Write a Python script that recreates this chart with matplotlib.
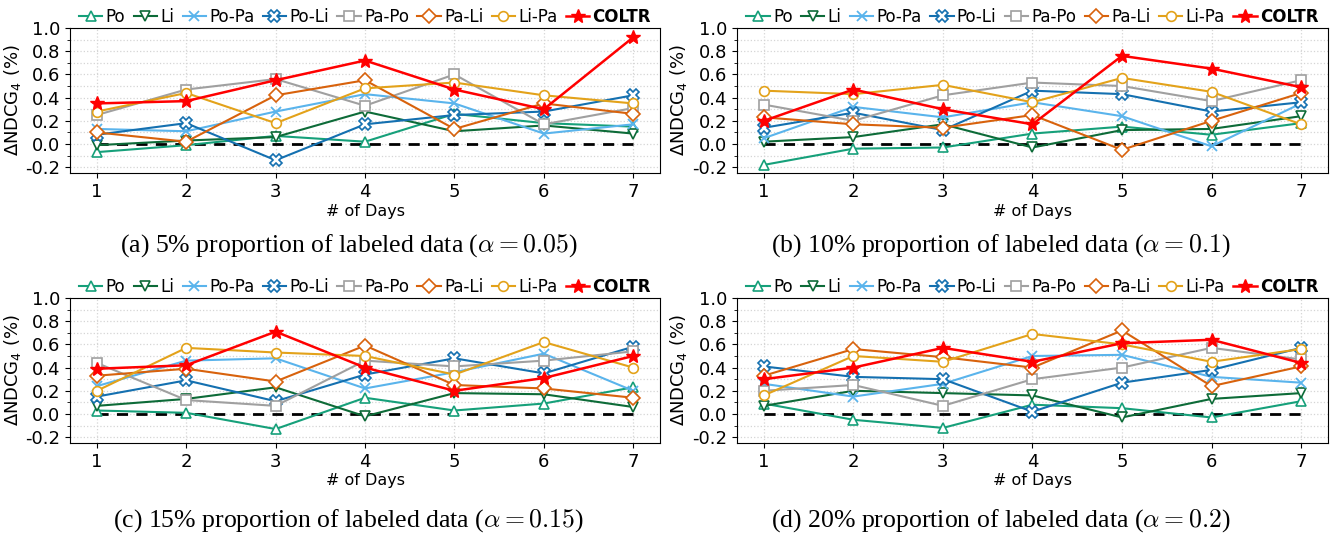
import matplotlib
matplotlib.use("Agg")
import matplotlib.pyplot as plt
from matplotlib.ticker import MultipleLocator

plt.rcParams['axes.unicode_minus'] = False

# x axis: number of days
days = [1, 2, 3, 4, 5, 6, 7]

# method names, in legend order
methods = ['Po', 'Li', 'Po-Pa', 'Po-Li', 'Pa-Po', 'Pa-Li', 'Li-Pa', 'COLTR']

# (a) alpha = 0.05
a_po    = [-0.07, -0.01, 0.07, 0.02, 0.26, 0.18, 0.15]
a_li    = [-0.01, 0.03, 0.06, 0.28, 0.11, 0.16, 0.09]
a_popa  = [0.13, 0.11, 0.28, 0.43, 0.35, 0.09, 0.17]
a_poli  = [0.08, 0.18, -0.14, 0.17, 0.25, 0.28, 0.42]
a_papo  = [0.25, 0.47, 0.56, 0.33, 0.60, 0.17, 0.31]
a_pali  = [0.10, 0.02, 0.42, 0.55, 0.13, 0.35, 0.26]
a_lipa  = [0.28, 0.44, 0.18, 0.48, 0.53, 0.42, 0.35]
a_coltr = [0.35, 0.37, 0.55, 0.72, 0.47, 0.30, 0.92]

# (b) alpha = 0.1
b_po    = [-0.18, -0.04, -0.03, 0.09, 0.15, 0.08, 0.18]
b_li    = [0.02, 0.06, 0.17, -0.03, 0.12, 0.13, 0.24]
b_popa  = [0.05, 0.32, 0.23, 0.36, 0.24, -0.02, 0.35]
b_poli  = [0.14, 0.27, 0.12, 0.46, 0.43, 0.28, 0.36]
b_papo  = [0.34, 0.20, 0.42, 0.53, 0.50, 0.37, 0.55]
b_pali  = [0.23, 0.17, 0.14, 0.25, -0.05, 0.20, 0.44]
b_lipa  = [0.46, 0.43, 0.51, 0.36, 0.57, 0.45, 0.17]
b_coltr = [0.20, 0.47, 0.30, 0.17, 0.76, 0.65, 0.49]

# (c) alpha = 0.15
c_po    = [0.03, 0.01, -0.13, 0.14, 0.03, 0.09, 0.23]
c_li    = [0.07, 0.13, 0.23, -0.02, 0.18, 0.17, 0.06]
c_popa  = [0.24, 0.46, 0.48, 0.22, 0.36, 0.52, 0.20]
c_poli  = [0.15, 0.29, 0.11, 0.34, 0.48, 0.35, 0.58]
c_papo  = [0.44, 0.12, 0.07, 0.46, 0.41, 0.46, 0.54]
c_pali  = [0.33, 0.39, 0.28, 0.59, 0.25, 0.22, 0.14]
c_lipa  = [0.20, 0.57, 0.53, 0.50, 0.34, 0.62, 0.40]
c_coltr = [0.39, 0.42, 0.71, 0.40, 0.20, 0.31, 0.50]

# (d) alpha = 0.2
d_po    = [0.09, -0.05, -0.12, 0.08, 0.05, -0.03, 0.11]
d_li    = [0.07, 0.20, 0.18, 0.16, -0.03, 0.13, 0.18]
d_popa  = [0.26, 0.15, 0.26, 0.50, 0.51, 0.32, 0.27]
d_poli  = [0.41, 0.32, 0.30, 0.02, 0.27, 0.38, 0.57]
d_papo  = [0.20, 0.25, 0.07, 0.30, 0.40, 0.57, 0.47]
d_pali  = [0.33, 0.56, 0.49, 0.40, 0.72, 0.24, 0.41]
d_lipa  = [0.16, 0.50, 0.45, 0.69, 0.60, 0.45, 0.56]
d_coltr = [0.30, 0.40, 0.57, 0.45, 0.61, 0.64, 0.44]

captions = [
    r'(a) 5% proportion of labeled data ($\alpha = 0.05$)',
    r'(b) 10% proportion of labeled data ($\alpha = 0.1$)',
    r'(c) 15% proportion of labeled data ($\alpha = 0.15$)',
    r'(d) 20% proportion of labeled data ($\alpha = 0.2$)',
]

panels = [
    [a_po, a_li, a_popa, a_poli, a_papo, a_pali, a_lipa, a_coltr],
    [b_po, b_li, b_popa, b_poli, b_papo, b_pali, b_lipa, b_coltr],
    [c_po, c_li, c_popa, c_poli, c_papo, c_pali, c_lipa, c_coltr],
    [d_po, d_li, d_popa, d_poli, d_papo, d_pali, d_lipa, d_coltr],
]

# styles per method
colors = ['#16a07a', '#0d6b38', '#5ab4ec', '#1470b0', '#a0a0a0', '#d8620c', '#e3a21a', '#ff0000']
markers = ['^', 'v', 'x', 'X', 's', 'D', 'o', '*']
msizes = [7, 7, 7, 8, 7, 7, 7, 10]

fig = plt.figure(figsize=(13.31, 5.33), dpi=100)

# axes boxes in figure fractions: left, bottom, width, height
boxes = [
    [0.0526, 0.6754, 0.4433, 0.272],
    [0.5537, 0.6754, 0.4440, 0.272],
    [0.0526, 0.1689, 0.4433, 0.272],
    [0.5537, 0.1689, 0.4440, 0.272],
]
cap_pos = [(0.262, 0.540), (0.752, 0.540), (0.262, 0.024), (0.752, 0.024)]

for k in range(4):
    ax = fig.add_axes(boxes[k])
    series = panels[k]
    for i in range(len(methods)):
        if methods[i] == 'COLTR':
            ax.plot(days, series[i], color=colors[i], marker=markers[i], markersize=msizes[i],
                    linewidth=1.8, label=methods[i], zorder=4)
        elif markers[i] == 'x':
            ax.plot(days, series[i], color=colors[i], marker=markers[i], markersize=msizes[i],
                    markeredgewidth=1.3, linewidth=1.5, label=methods[i], zorder=3)
        else:
            ax.plot(days, series[i], color=colors[i], marker=markers[i], markersize=msizes[i],
                    markerfacecolor='white', markeredgecolor=colors[i], markeredgewidth=1.2,
                    linewidth=1.5, label=methods[i], zorder=3)

    # zero reference line
    ax.plot([days[0], days[-1]], [0, 0], color='black', linestyle='--', linewidth=2, dashes=(4, 3), zorder=2)

    ax.set_xlim(0.7, 7.3)
    ax.set_ylim(-0.25, 1.0)
    ax.set_xticks(days)
    ax.yaxis.set_minor_locator(MultipleLocator(0.1))
    ax.set_yticks([-0.2, 0.0, 0.2, 0.4, 0.6, 0.8, 1.0])
    ax.set_yticklabels(['-0.2', '0.0', '0.2', '0.4', '0.6', '0.8', '1.0'])
    ax.tick_params(axis='both', which='major', labelsize=13)
    ax.grid(True, which='major', color='#d5d5d5', linestyle=':', linewidth=0.9)
    ax.grid(True, which='minor', axis='y', color='#d5d5d5', linestyle=':', linewidth=0.9)
    ax.set_axisbelow(True)

    ax.set_xlabel('# of Days', fontsize=11.5, labelpad=2)
    ax.set_ylabel(r'$\Delta$NDCG$_4$ (%)', fontsize=13, labelpad=2)

    leg = ax.legend(loc='lower center', bbox_to_anchor=(0.5, 0.98), ncol=8, frameon=False,
                    fontsize=12, handlelength=1.4, handletextpad=0.2, columnspacing=0.5,
                    borderaxespad=0.1, borderpad=0.2)
    for t in leg.get_texts():
        if t.get_text() == 'COLTR':
            t.set_fontweight('bold')

    fig.text(cap_pos[k][0], cap_pos[k][1], captions[k], ha='center', va='center',
             fontsize=18.5, family='Liberation Serif', math_fontfamily='cm')

fig.savefig('out.png', dpi=100)
